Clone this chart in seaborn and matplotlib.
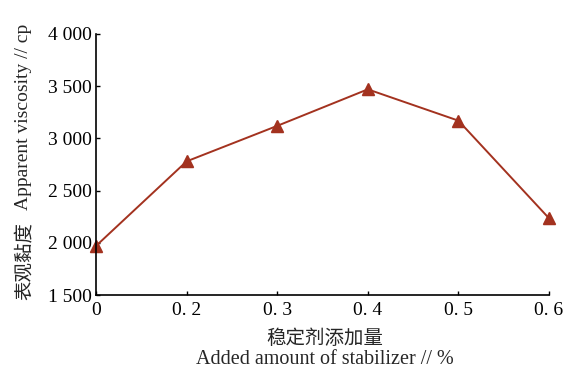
import matplotlib
matplotlib.use("Agg")
import matplotlib.pyplot as plt
import seaborn as sns
import pandas as pd

categories = ["0", "0. 2", "0. 3", "0. 4", "0. 5", "0. 6"]
viscosity = [1970, 2780, 3120, 3470, 3170, 2235]
y_ticks = [1500, 2000, 2500, 3000, 3500, 4000]
y_tick_labels = ["1 500", "2 000", "2 500", "3 000", "3 500", "4 000"]

xlabel_cn = "稳定剂添加量"
xlabel_en = "Added amount of stabilizer // %"
ylabel_cn = "表观黏度"
ylabel_en = "Apparent viscosity // cp"

sns.set_style("ticks")
plt.rcParams['font.family'] = ['Liberation Serif', 'Noto Sans CJK SC']

df = pd.DataFrame({"amount": categories, "visc": viscosity})

W, H = 584, 371
fig = plt.figure(figsize=(W / 100, H / 100), dpi=100)
ax = fig.add_axes([96 / W, 1 - 295 / H, (549 - 96) / W, (295 - 34) / H])
sns.pointplot(data=df, x="amount", y="visc", order=categories, markers="^",
              color="#A3321F", linewidth=1.4, markersize=8, ax=ax, errorbar=None)
ax.set_xlim(0, len(categories) - 1)
ax.set_ylim(1500, 4000)
ax.set_yticks(y_ticks)
ax.set_yticklabels(y_tick_labels)
for s in ["top", "right"]:
    ax.spines[s].set_visible(False)
for s in ["left", "bottom"]:
    ax.spines[s].set_linewidth(1.2)
    ax.spines[s].set_color("black")
ax.tick_params(direction="in", length=3, width=1, labelsize=14, colors="black")
ax.tick_params(axis="y", pad=3)
ax.tick_params(axis="x", pad=5)
ax.set_xlabel("")
ax.set_ylabel("")
for c in ax.collections:
    c.set_clip_on(False)
for l in ax.lines:
    l.set_clip_on(False)

cn = ['Noto Sans CJK SC']
en = ['Liberation Serif', 'Noto Sans CJK SC']
fig.text(325 / W, 1 - 339 / H, xlabel_cn, family=cn, fontsize=14,
         ha="center", va="center")
fig.text(325 / W, 1 - 359 / H, xlabel_en, family=en, fontsize=14.5,
         ha="center", va="center")
fig.text(24 / W, 1 - 300 / H, ylabel_cn, family=cn, fontsize=14,
         rotation=90, ha="center", va="bottom")
fig.text(24 / W, 1 - 210 / H, ylabel_en, family=en, fontsize=14,
         rotation=90, ha="center", va="bottom")

fig.savefig("out.png", dpi=100, facecolor="white")
